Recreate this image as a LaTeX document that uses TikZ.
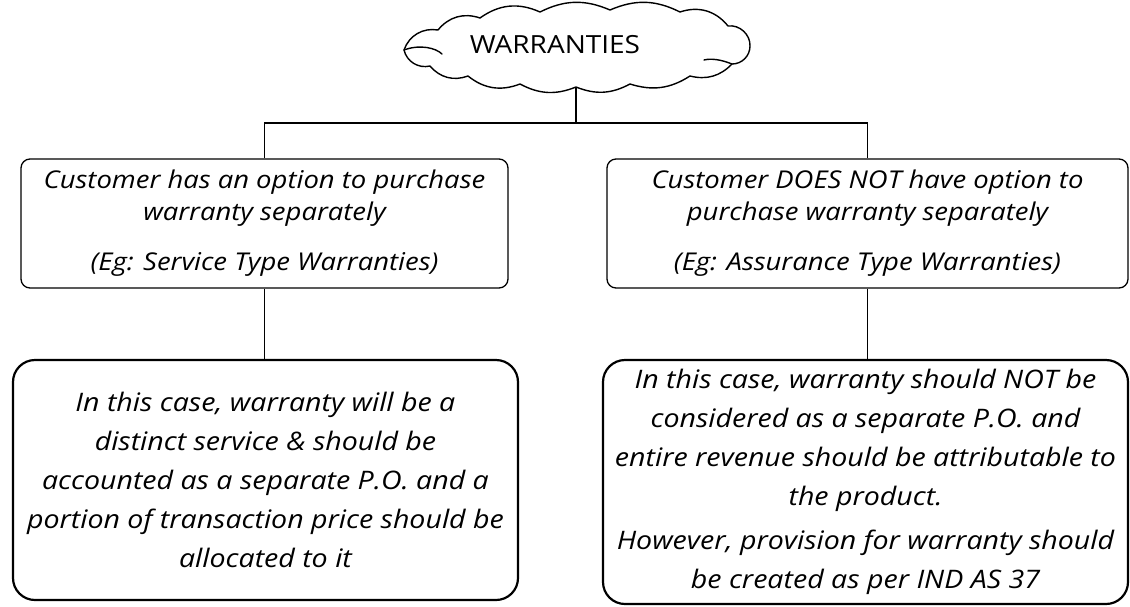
\documentclass[tikz,border=0pt]{standalone}
\usepackage{fontspec}
\setmainfont{Open Sans}
\newfontfamily\handfont{Open Sans}[FakeStretch=1.12]
\tikzset{
  lnk/.style={line width=1.6pt, draw=black},
  topbox/.style={draw=black, line width=1.3pt, rounded corners=9pt, align=center,
    inner sep=0pt, font=\handfont\itshape\fontsize{24.5}{32}\selectfont},
  lowbox/.style={draw=black, line width=2.2pt, rounded corners=22pt, align=center,
    inner sep=0pt, font=\handfont\itshape\fontsize{25.5}{39}\selectfont},
  cloudline/.style={draw=black, line width=1.4pt, line join=round, line cap=round},
  puff/.style={bend left=#1},
  cloudtext/.style={inner sep=0pt, font=\handfont\fontsize{25}{28}\selectfont}
}
\begin{document}
\begin{tikzpicture}[x=1pt,y=-1pt]
\useasboundingbox (0,0) rectangle (1130,606);
\fill[white] (0,0) rectangle (1130,606);
% cloud outline
\draw[cloudline]
  (404,50) to[puff=40] (438,30) to[puff=35] (480,18) to[puff=30] (540,12)
  to[puff=25] (610,10) to[puff=25] (680,12) to[puff=35] (728,26)
  to[puff=50] (750,46) to[puff=45] (732,64) to[puff=30] (690,76)
  to[puff=25] (630,84) to[puff=25] (576,87) to[puff=25] (520,84)
  to[puff=30] (468,76) to[puff=35] (430,66) to[puff=45] cycle;
% inner curls
\draw[cloudline] (404,50) .. controls (420,44) and (436,48) .. (442,54);
\draw[cloudline] (732,64) .. controls (722,60) and (712,58) .. (704,60);
\node[cloudtext] (cl) at (555,45) {WARRANTIES};
\coordinate (clb) at (576,87);
\node[topbox, minimum width=487pt, minimum height=129pt] (b1L) at (264.5,223.5)
  {Customer has an option to purchase\\ warranty separately\\[18pt] (Eg: Service Type Warranties)};
\node[topbox, minimum width=521pt, minimum height=129pt] (b1R) at (867.5,223.5)
  {Customer DOES NOT have option to\\ purchase warranty separately\\[18pt] (Eg: Assurance Type Warranties)};
\node[lowbox, minimum width=505pt, minimum height=240pt] (b2L) at (265.5,480)
  {In this case, warranty will be a\\ distinct service \& should be\\ accounted as a separate P.O. and a\\ portion of transaction price should be\\ allocated to it};
\node[lowbox, minimum width=525pt, minimum height=244pt] (b2R) at (865.5,482)
  {In this case, warranty should NOT be\\ considered as a separate P.O. and\\ entire revenue should be attributable to\\ the product.\\[5pt] However, provision for warranty should\\ be created as per IND AS 37};
\coordinate (jC) at (576,123);
\coordinate (jL) at (264.5,123);
\coordinate (jR) at (867.5,123);
\draw[lnk] (clb) -- (jC);
\draw[lnk] (b1L.north) -- (jL) -- (jR) -- (b1R.north);
\draw[lnk] (b1L.south) -- (b2L.north -| b1L.south);
\draw[lnk] (b1R.south) -- (b2R.north -| b1R.south);
\end{tikzpicture}
\end{document}
